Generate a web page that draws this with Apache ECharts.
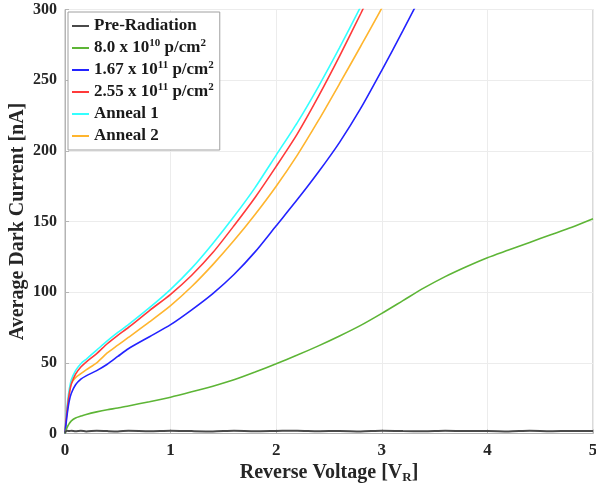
<!DOCTYPE html>
<html>
<head>
<meta charset="utf-8">
<script src="https://cdn.jsdelivr.net/npm/echarts@6/dist/echarts.min.js"></script>
<style>html,body{margin:0;padding:0;background:#fff}#c{width:596px;height:495px}</style>
</head>
<body>
<div id="c"></div>
<script>
// ---- data ----
var voltage = [0, 0.01, 0.025, 0.04, 0.06, 0.1, 0.15, 0.2, 0.3, 0.4, 0.5, 0.6, 0.8, 1.0, 1.2, 1.4, 1.6, 1.8, 2.0, 2.2, 2.4, 2.6, 2.8, 3.0, 3.2, 3.4, 3.6, 3.8, 4.0, 4.2, 4.4, 4.6, 4.8, 5.0];
var preRadiation = [0.5, 1.6, 1.9, 1.7, 2.0, 1.6, 1.9, 1.5, 2.0, 1.7, 1.5, 1.9, 1.6, 2.0, 1.7, 1.5, 1.9, 1.6, 1.8, 2.0, 1.6, 1.8, 1.5, 1.9, 1.7, 1.6, 2.0, 1.7, 1.8, 1.5, 1.9, 1.6, 1.8, 1.7];
var fluence8e10 = [0, 2.5, 5, 7, 9, 11, 12.3, 13.5, 15.3, 16.8, 18, 19.5, 22.5, 25.7, 29.5, 33.5, 38, 43.5, 49.4, 55.5, 62, 69, 76.5, 85, 94, 103, 111, 118, 124.4, 129.8, 135.2, 140.6, 146, 152];
var fluence167e11 = [0, 7, 16, 23, 28.5, 34.5, 38.5, 40.8, 44.5, 49, 54.5, 60, 68.5, 77, 87.5, 99, 112.5, 128.5, 147, 165.5, 185, 206, 230, 257, 285, 314, null, null, null, null, null, null, null, null];
var fluence255e11 = [0, 10, 20, 28, 35, 42, 47, 50.5, 56.5, 63.5, 69.5, 75, 87, 98.5, 112, 128, 147, 167, 189, 212, 238.5, 267, 297, 328, null, null, null, null, null, null, null, null, null, null];
var anneal1 = [0, 12, 23, 31, 38, 44.5, 49.4, 52.5, 59, 65.5, 71.5, 77, 89, 102, 117, 134.5, 153.5, 174, 197, 220, 245.5, 273, 302, null, null, null, null, null, null, null, null, null, null, null];
var anneal2 = [0, 8, 18, 28, 35.5, 39.5, 42.3, 45, 50, 57, 62.5, 68, 79, 90.5, 104, 119.5, 136.5, 155, 175, 197, 221.5, 247.5, 274, 301, 330, null, null, null, null, null, null, null, null, null];
var seriesNames = ['Pre-Radiation', '8.0 x 10{sup|10} p/cm{sup|2}', '1.67 x 10{sup|11} p/cm{sup|2}', '2.55 x 10{sup|11} p/cm{sup|2}', 'Anneal 1', 'Anneal 2'];
var xTicks = [0, 1, 2, 3, 4, 5];
var yTicks = [0, 50, 100, 150, 200, 250, 300];

function pairs(vals) {
  var out = [];
  for (var i = 0; i < voltage.length; i++) {
    if (vals[i] !== null) out.push([voltage[i], vals[i]]);
  }
  return out;
}

var FONT = '"Liberation Serif", "Times New Roman", serif';
var colors = ['#4a4a4a', '#5db536', '#2323ff', '#ff3a3a', '#33ffff', '#ffb52e'];
var widths = [2, 1.6, 1.6, 1.6, 1.6, 1.6];
var allData = [preRadiation, fluence8e10, fluence167e11, fluence255e11, anneal1, anneal2];

var series = allData.map(function (d, i) {
  return {
    name: seriesNames[i],
    type: 'line',
    data: pairs(d),
    showSymbol: false,
    smooth: 0.25,
    clip: true,
    lineStyle: { color: colors[i], width: widths[i] },
    itemStyle: { color: colors[i] },
    z: 10 - i
  };
});

var chart = echarts.init(document.getElementById('c'), null, { renderer: 'canvas' });
chart.setOption({
  animation: false,
  backgroundColor: '#fff',
  grid: { left: 65, right: 3, top: 9.5, bottom: 61.5, containLabel: false, outerBoundsMode: 'none',
    show: true, borderColor: '#b4b4b4', borderWidth: 1 },
  legend: {
    orient: 'vertical',
    left: 68,
    top: 12,
    padding: [4, 6, 4, 4],
    itemGap: 2,
    itemWidth: 17,
    itemHeight: 2,
    icon: 'rect',
    backgroundColor: '#fff',
    borderColor: '#a0a0a0',
    borderWidth: 1,
    borderRadius: 0,
    data: seriesNames,
    textStyle: {
      fontFamily: FONT, fontWeight: 'bold', fontSize: 17, color: '#1a1a1a', lineHeight: 20,
      rich: {
        sup: { fontFamily: FONT, fontWeight: 'bold', fontSize: 11, color: '#1a1a1a', verticalAlign: 'top', lineHeight: 12, padding: [0, 0, 8, 0] }
      }
    }
  },
  xAxis: {
    type: 'value', min: 0, max: 5, interval: 1,
    name: 'Reverse Voltage [V{sub|R}]',
    nameLocation: 'middle', nameGap: 28, nameMoveOverlap: false,
    nameTextStyle: {
      fontFamily: FONT, fontWeight: 'bold', fontSize: 20, color: '#262626',
      rich: { sub: { fontFamily: FONT, fontWeight: 'bold', fontSize: 13, color: '#262626', verticalAlign: 'bottom', padding: [10, 0, 0, 0] } }
    },
    axisLine: { show: true, lineStyle: { color: '#b4b4b4' } },
    axisTick: { show: true, inside: true, length: 4, lineStyle: { color: '#b4b4b4' } },
    splitLine: { show: true, lineStyle: { color: '#ececec', width: 1 } },
    axisLabel: { fontFamily: FONT, fontWeight: 'bold', fontSize: 17, color: '#262626', margin: 9,
      formatter: function (v) { return xTicks.indexOf(v) >= 0 ? String(v) : ''; } }
  },
  yAxis: {
    type: 'value', min: 0, max: 300, interval: 50,
    name: 'Average Dark Current [nA]',
    nameLocation: 'middle', nameGap: 37, nameMoveOverlap: false,
    nameTextStyle: { fontFamily: FONT, fontWeight: 'bold', fontSize: 20, color: '#262626' },
    axisLine: { show: true, lineStyle: { color: '#b4b4b4' } },
    axisTick: { show: true, inside: true, length: 4, lineStyle: { color: '#b4b4b4' } },
    splitLine: { show: true, lineStyle: { color: '#ececec', width: 1 } },
    axisLabel: { fontFamily: FONT, fontWeight: 'bold', fontSize: 16, color: '#262626', margin: 8,
      formatter: function (v) { return yTicks.indexOf(v) >= 0 ? String(v) : ''; } }
  },
  series: series
});
</script>
</body>
</html>
